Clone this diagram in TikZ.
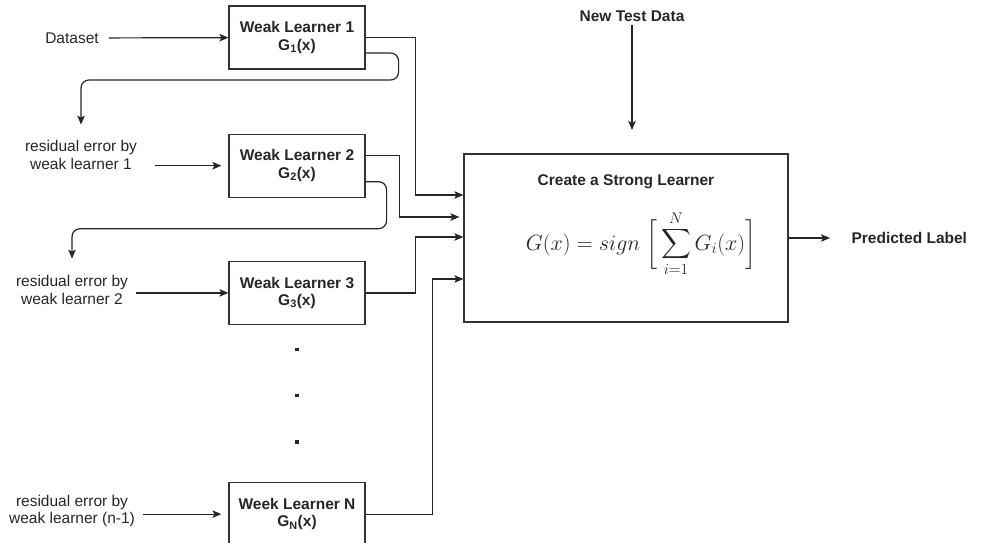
\RequirePackage{fix-cm}
\documentclass[tikz,border=0pt]{standalone}
\usepackage{amsmath}
\usepackage[no-math]{fontspec}
\setmainfont{Liberation Sans}
\usetikzlibrary{arrows.meta, positioning}
\newcommand{\diagfont}{\fontsize{15.5}{17.5}\selectfont}

\begin{document}
\begin{tikzpicture}[x=1pt,y=-1pt,line width=1.2pt,
		>={Stealth[length=9pt,width=7.5pt,inset=2pt]}]

		\tikzstyle{every node}=[font=\diagfont,text=black!85]
		\tikzstyle{learner}=[rectangle,draw=black!80,minimum width=136pt,
			minimum height=63pt,align=center,inner sep=0pt,font=\diagfont\bfseries]
		\tikzstyle{strong}=[rectangle,draw=black!80,minimum width=324pt,minimum height=168pt]
		\tikzstyle{input}=[align=center]
		\tikzstyle{heading}=[font=\diagfont\bfseries]
		\tikzstyle{dot}=[rectangle,fill=black!85,inner sep=0pt,minimum size=3.5pt]
		\tikzstyle{link}=[->,draw=black!85]

		\useasboundingbox (0,0) rectangle (987,542);

		% weak learners
		\node [learner] (wl1) at (297,37.5) {Weak Learner 1\\G\textsubscript{1}(x)};
		\node [learner, below=64pt of wl1] (wl2) {Weak Learner 2\\G\textsubscript{2}(x)};
		\node [learner, below=63pt of wl2] (wl3) {Weak Learner 3\\G\textsubscript{3}(x)};
		\node [dot, below=22pt of wl3] (d1) {};
		\node [dot, below=41.5pt of d1] (d2) {};
		\node [dot, below=41.5pt of d2] (d3) {};
		\node [learner, below=157pt of wl3] (wln) {Week Learner N\\G\textsubscript{N}(x)};

		% inputs
		\node (data) at (72,38) {Dataset};
		\node [input] (res1) at (81,155) {residual error by\\weak learner 1};
		\node [input] (res2) at (72,290) {residual error by\\weak learner 2};
		\node [input] (resn) at (72,511) {residual error by\\weak learner (n-1)};

		% strong learner
		\node [strong] (strong) at (626,238) {};
		\node [heading] (title) at (626,182) {Create a Strong Learner};
		\node [inner sep=0pt, anchor=base] (formula) at (641,250) {\fontsize{22}{26}\selectfont
			$\displaystyle G(x)=sign\;\biggl[\,\sum_{i=1}^{N}G_i(x)\biggr]$};
		\node [heading] (newdata) at (632,16) {New Test Data};
		\coordinate (testin) at (632,130);
		\node [heading, anchor=west, inner sep=0pt] (pred) at (851,238) {Predicted Label};

		\draw [link, shorten <=6pt] (data) -- (wl1);
		\draw [link, shorten <=14pt, shorten >=7pt] (res1.east |- wl2.west) -- (wl2.west);
		\draw [link, shorten <=4pt] (res2.east |- wl3.west) -- (wl3.west);
		\draw [link, shorten <=4pt, shorten >=7pt] (resn.east |- wln.west) -- (wln.west);

		% residuals passed down
		\draw [link, rounded corners=8pt, shorten >=12pt] ([yshift=-15.5pt]wl1.east)
			-- ++(33,0) -- ++(0,27) -| (res1.north);
		\draw [link, rounded corners=8pt, shorten >=13pt] ([yshift=-16pt]wl2.east)
			-- ++(21,0) -- ++(0,47) -| (res2.north);

		% into the strong learner
		\draw [link] (wl1.east) -- ++(50,0) |- ([yshift=43pt]strong.west);
		\draw [link, shorten >=4pt] ([yshift=10pt]wl2.east) -- ++(34,0) |- ([yshift=21pt]strong.west);
		\draw [link] (wl3.east) -- ++(50,0) |- ([yshift=1pt]strong.west);
		\draw [link] (wln.east) -- ++(67,0) |- ([yshift=-41pt]strong.west);

		\draw [link] (newdata) -- (testin);
		\draw [link, shorten >=21pt] (strong) -- (pred);
	\end{tikzpicture}
\end{document}
